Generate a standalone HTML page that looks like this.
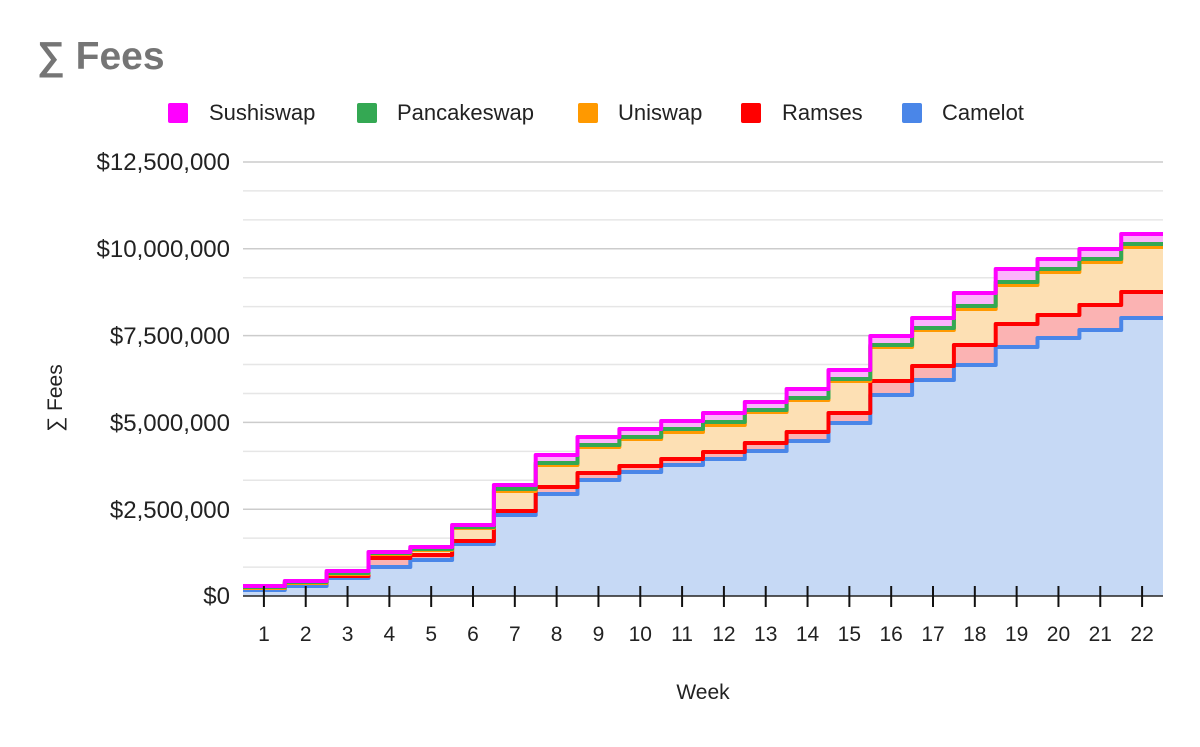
<!DOCTYPE html>
<html><head><meta charset="utf-8"><style>
body{margin:0;background:#fff;width:1200px;height:742px;overflow:hidden;font-family:"Liberation Sans",Arial,sans-serif}
</style></head><body>
<svg id="s" width="1200" height="742" xmlns="http://www.w3.org/2000/svg" font-family="Liberation Sans, Arial, sans-serif">
<text x="37" y="69" font-size="39" font-weight="bold" fill="#757575">∑ Fees</text>
<g font-size="22" fill="#222">
<rect x="168" y="103" width="20" height="20" rx="2" fill="#ff00ff"/><text x="209" y="120">Sushiswap</text>
<rect x="357" y="103" width="20" height="20" rx="2" fill="#34a853"/><text x="397" y="120">Pancakeswap</text>
<rect x="578" y="103" width="20" height="20" rx="2" fill="#ff9900"/><text x="618" y="120">Uniswap</text>
<rect x="741" y="103" width="20" height="20" rx="2" fill="#ff0000"/><text x="782" y="120">Ramses</text>
<rect x="902" y="103" width="20" height="20" rx="2" fill="#4a86e8"/><text x="942" y="120">Camelot</text>
</g>
<g id="grid"></g>
<g id="areas"></g>
<g id="lines" fill="none" stroke-width="4" stroke-linejoin="round"></g>
<line x1="243" y1="596" x2="1163" y2="596" stroke="#222" stroke-width="1.5"/>
<g id="ticks"></g>
<g font-size="24" fill="#222" text-anchor="end">
<text x="230" y="170">$12,500,000</text>
<text x="230" y="257">$10,000,000</text>
<text x="230" y="344">$7,500,000</text>
<text x="230" y="431">$5,000,000</text>
<text x="230" y="518">$2,500,000</text>
<text x="230" y="604">$0</text>
</g>
<text transform="translate(62,398) rotate(-90)" font-size="21" fill="#222" text-anchor="middle">∑ Fees</text>
<text x="703" y="699" font-size="21" fill="#222" text-anchor="middle">Week</text>
</svg>
<script>
const NS="http://www.w3.org/2000/svg";
function el(p,t,a){const e=document.createElementNS(NS,t);for(const k in a)e.setAttribute(k,a[k]);p.appendChild(e);return e;}
const g=document.getElementById('grid');
for(let i=0;i<15;i++){const y=162+i*434/15;el(g,'line',{x1:243,x2:1163,y1:y,y2:y,stroke:i%3==0?'#cccccc':'#e6e6e6','stroke-width':1.5});}
const blue=[590,586,578,567,560,544,515,494,480,472,465,459,451,441,423,395,380,365,347,338,330,318];
const red=[588,583,576,558,555,541,511,487,473,466,459,452,443,432,413,381,366,345,324,315,305,292];
const ora=[588,583,574,554,550,528,491,465,447,439,432,425,412,400,381,347,330,309,285,272,262,247];
const gre=[587,582,573,553,549,527,489,463,445,437,429,422,410,398,379,345,328,306,282,269,259,244];
const mag=[586,581,571,552,547,525,485,455,437,429,421,413,402,389,370,336,318,293,269,259,249,234];
const W=920/22,X0=243;
function pts(a){let p=[];for(let i=0;i<22;i++){p.push([X0+i*W,a[i]]);p.push([X0+(i+1)*W,a[i]]);}return p;}
function d(p){return 'M'+p.map(q=>q[0].toFixed(1)+','+q[1]).join('L');}
const ar=document.getElementById('areas');
const ser=[[blue,null,'#c6d9f5','#4a86e8'],[red,blue,'#fbb3b3','#ff0000'],[ora,red,'#fde0b4','#ff9900'],[gre,ora,'#b7dfc0','#34a853'],[mag,gre,'#fcb3fc','#ff00ff']];
ser.forEach(s=>{const top=pts(s[0]);let bot=s[1]?pts(s[1]).reverse():[[1163,596],[243,596]];el(ar,'path',{d:d(top.concat(bot))+'Z',fill:s[2]});});
const ln=document.getElementById('lines');
ser.forEach(s=>el(ln,'path',{d:d(pts(s[0])),stroke:s[3]}));
const tk=document.getElementById('ticks');
for(let i=0;i<22;i++){const x=X0+(i+0.5)*W;el(tk,'line',{x1:x,x2:x,y1:586,y2:607,stroke:'#111','stroke-width':2});const t=el(tk,'text',{x:x,y:641,'font-size':21,fill:'#222','text-anchor':'middle'});t.textContent=i+1;}
</script>
</body></html>
